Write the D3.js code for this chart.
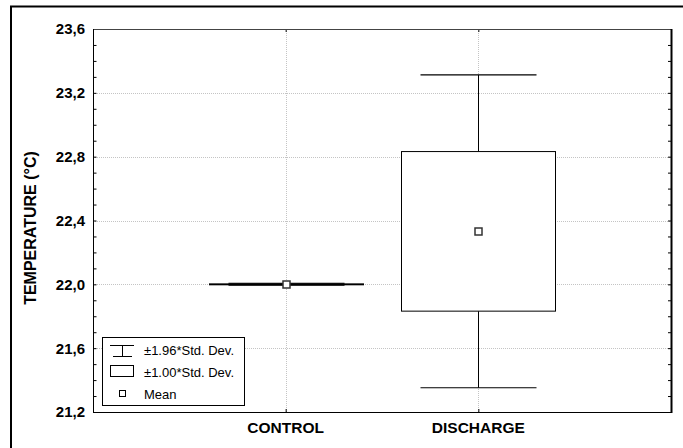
<!DOCTYPE html>
<html>
<head>
<meta charset="utf-8">
<script src="https://cdn.jsdelivr.net/npm/d3@7/dist/d3.min.js"></script>
<style>
  html, body { margin: 0; padding: 0; background: #fff; }
  svg { display: block; }
  text { font-family: Arial, "Liberation Sans", Helvetica, sans-serif; }
</style>
</head>
<body>
<svg id="chart" width="683" height="448"></svg>
<script>
// ---- data ----
const categories = ["CONTROL", "DISCHARGE"];
const means = [22.0, 22.332];
const stdDevs = [0.003, 0.5];
const yTicks = [21.2, 21.6, 22.0, 22.4, 22.8, 23.2, 23.6];
const yDomain = [21.2, 23.6];
const legendLabels = ["±1.96*Std. Dev.", "±1.00*Std. Dev.", "Mean"];
const whiskerMult = 1.96;
const boxMult = 1.00;
const yTitle = "TEMPERATURE (°C)";

// ---- layout ----
const svg = d3.select("#chart");
const L = 93, R = 671, T = 29, B = 412;

const x = d3.scalePoint().domain(categories).range([L, R]).padding(1);
const y = d3.scaleLinear().domain(yDomain).range([B, T]);

const fmt = v => d3.format(".1f")(v).replace(".", ",");

// outer frame (left & top visible)
svg.append("line").attr("x1", 11).attr("x2", 11).attr("y1", 6).attr("y2", 448)
  .attr("stroke", "#000").attr("stroke-width", 2);
svg.append("line").attr("x1", 10).attr("x2", 683).attr("y1", 6.5).attr("y2", 6.5)
  .attr("stroke", "#000").attr("stroke-width", 2);

// grid
const grid = svg.append("g");
grid.selectAll("line.h").data(yTicks.filter(t => t > yDomain[0] && t < yDomain[1]))
  .join("line")
  .attr("x1", L).attr("x2", R)
  .attr("y1", d => Math.round(y(d)) + 0.5).attr("y2", d => Math.round(y(d)) + 0.5)
  .attr("stroke", "#c4c4c4").attr("stroke-width", 1).attr("stroke-dasharray", "1,1");
grid.selectAll("line.v").data(categories).join("line")
  .attr("x1", d => Math.round(x(d)) + 0.5).attr("x2", d => Math.round(x(d)) + 0.5)
  .attr("y1", T).attr("y2", B)
  .attr("stroke", "#c4c4c4").attr("stroke-width", 1).attr("stroke-dasharray", "1,1");

// axes
const minorTicks = d3.range(Math.round(yDomain[0] * 10), Math.round(yDomain[1] * 10) + 1).map(v => v / 10);
const yLeft = d3.axisRight(y).tickValues(minorTicks).tickSize(3).tickFormat("");
const yRight = d3.axisLeft(y).tickValues(minorTicks).tickSize(3).tickFormat("");
const gl = svg.append("g").attr("transform", `translate(${L + 0.5},0)`).call(yLeft);
const gr = svg.append("g").attr("transform", `translate(${R},0)`).call(yRight);
[gl, gr].forEach(g => { g.select(".domain").remove(); g.selectAll(".tick line").attr("stroke", "#000"); });

const xBottom = d3.axisTop(x).tickSize(3).tickFormat("");
const xTop = d3.axisBottom(x).tickSize(3).tickFormat("");
const gb = svg.append("g").attr("transform", `translate(0,${B})`).call(xBottom);
const gt = svg.append("g").attr("transform", `translate(0,${T})`).call(xTop);
[gb, gt].forEach(g => { g.select(".domain").remove(); g.selectAll(".tick line").attr("stroke", "#000"); });

// plot frame
svg.append("line").attr("x1", L).attr("x2", R).attr("y1", T + 0.5).attr("y2", T + 0.5).attr("stroke", "#444");
svg.append("line").attr("x1", L + 0.5).attr("x2", L + 0.5).attr("y1", T).attr("y2", B).attr("stroke", "#000");
svg.append("line").attr("x1", L).attr("x2", R + 1).attr("y1", B + 0.5).attr("y2", B + 0.5).attr("stroke", "#000");
svg.append("line").attr("x1", R + 0.5).attr("x2", R + 0.5).attr("y1", T).attr("y2", B + 1).attr("stroke", "#000").attr("stroke-width", 2);

// y tick labels
svg.append("g").selectAll("text").data(yTicks).join("text")
  .attr("x", 85).attr("y", d => y(d)).attr("dy", "0.36em")
  .attr("text-anchor", "end").attr("font-size", 15).attr("font-weight", "bold")
  .text(fmt);

// x labels
svg.append("g").selectAll("text").data(categories).join("text")
  .attr("x", d => x(d)).attr("y", 433)
  .attr("text-anchor", "middle").attr("font-size", 15.5).attr("font-weight", "bold")
  .text(d => d);

// y title
svg.append("text")
  .attr("transform", "translate(36,228) rotate(-90)")
  .attr("text-anchor", "middle").attr("font-size", 16).attr("font-weight", "bold")
  .text(yTitle);

// boxes
const boxHalf = 77, capHalf = 58, meanSize = 7;
const stats = categories.map((c, i) => ({
  c, mean: means[i],
  wLo: means[i] - whiskerMult * stdDevs[i], wHi: means[i] + whiskerMult * stdDevs[i],
  bLo: means[i] - boxMult * stdDevs[i], bHi: means[i] + boxMult * stdDevs[i]
}));
const g = svg.append("g");
stats.forEach(s => {
  const cx = Math.round(x(s.c)) + 0.5;
  // whisker stems
  g.append("line").attr("x1", cx).attr("x2", cx).attr("y1", y(s.wHi)).attr("y2", y(s.bHi)).attr("stroke", "#000");
  g.append("line").attr("x1", cx).attr("x2", cx).attr("y1", y(s.bLo)).attr("y2", y(s.wLo)).attr("stroke", "#000");
  // caps
  [s.wHi, s.wLo].forEach(v => {
    g.append("line").attr("x1", cx - capHalf).attr("x2", cx + capHalf)
      .attr("y1", y(v)).attr("y2", y(v)).attr("stroke", "#000").attr("stroke-width", 1.2);
  });
  // box
  g.append("rect").attr("x", cx - boxHalf).attr("width", boxHalf * 2)
    .attr("y", y(s.bHi)).attr("height", Math.max(0, y(s.bLo) - y(s.bHi)))
    .attr("fill", "#fff").attr("stroke", "#000").attr("stroke-width", 1);
  // mean
  g.append("rect").attr("x", cx - meanSize / 2).attr("y", Math.round(y(s.mean)) - meanSize / 2 + 0.5)
    .attr("width", meanSize).attr("height", meanSize)
    .attr("fill", "#fff").attr("stroke", "#333").attr("stroke-width", 1.5);
});

// legend
const lg = svg.append("g");
lg.append("rect").attr("x", 102.5).attr("y", 337.5).attr("width", 142).attr("height", 68)
  .attr("fill", "#fff").attr("stroke", "#000");
const rowY = [350, 372, 394];
// whisker icon
lg.append("line").attr("x1", 110).attr("x2", 134).attr("y1", 345.5).attr("y2", 345.5).attr("stroke", "#000");
lg.append("line").attr("x1", 122.5).attr("x2", 122.5).attr("y1", 345.5).attr("y2", 356.5).attr("stroke", "#000");
lg.append("line").attr("x1", 113).attr("x2", 132).attr("y1", 356.5).attr("y2", 356.5).attr("stroke", "#000");
// box icon
lg.append("rect").attr("x", 110.5).attr("y", 365.5).attr("width", 23).attr("height", 11)
  .attr("fill", "#fff").attr("stroke", "#000");
// mean icon
lg.append("rect").attr("x", 119.5).attr("y", 390.5).attr("width", 6).attr("height", 6)
  .attr("fill", "#fff").attr("stroke", "#000");
lg.selectAll("text").data(legendLabels).join("text")
  .attr("x", 144).attr("y", (d, i) => rowY[i]).attr("dy", "0.36em")
  .attr("font-size", 13).text(d => d);
</script>
</body>
</html>
